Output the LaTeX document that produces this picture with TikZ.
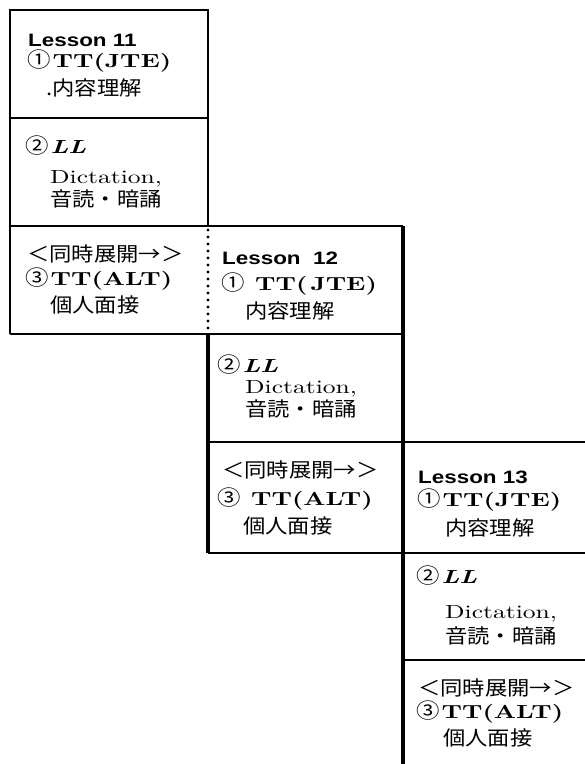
\documentclass[tikz,border=0pt]{standalone}
\usepackage{fontspec}
\newfontfamily\lesfont[FakeStretch=1.25]{Liberation Sans}
\newfontfamily\srf[Extension=.otf,UprightFont=*-regular,BoldFont=*-bold,ItalicFont=*-italic,BoldItalicFont=*-bolditalic,FakeStretch=1.35]{lmroman10}
\newfontfamily\jp[FakeStretch=1.12]{Noto Sans CJK JP}
\newcommand\cnum[1]{{\jp\fontsize{21}{21}\selectfont #1}\hspace{2bp}}
\tikzset{
  lesson/.style={anchor=base west, inner sep=0pt, font=\lesfont\bfseries\fontsize{18}{18}\selectfont},
  ser/.style={anchor=base west, inner sep=0pt, font=\srf\fontsize{19}{19}\selectfont},
  jpt/.style={anchor=base west, inner sep=0pt, font=\jp\fontsize{20}{20}\selectfont},
  frame/.style={line width=2.2bp},
  divl/.style={line width=1.4bp},
  heavy/.style={line width=3.2bp},
  dotl/.style={line width=3.4bp, line cap=round, dash pattern=on 0pt off 7bp},
}
\begin{document}
\begin{tikzpicture}[x=1bp,y=-1bp]
\useasboundingbox (0,0) rectangle (585,764);
% frames
\draw[frame] (10,334) -- (10,10) -- (208,10) -- (208,226);
\draw[divl] (10,118) -- (208,118);
\draw[frame] (10,226) -- (403,226);
\draw[frame] (10,334) -- (208,334);
\draw[divl] (208,334) -- (403,334);
\draw[divl] (208,442) -- (403,442);
\draw[frame] (403,442) -- (585,442);
\draw[heavy] (403,226) -- (403,553);
\draw[heavy] (208,334) -- (208,553);
\draw[frame] (208,553) -- (403,553);
\draw[divl] (403,553) -- (585,553);
\draw[heavy] (403,553) -- (403,764);
\draw[divl] (403,660) -- (585,660);
\draw[dotl] (208,230) -- (208,334);
\draw[dotl] (403,446) -- (403,553);
% box 1
\node[lesson] (a1) at (28,47) {Lesson 11};
\node[ser] (a2) at (27,68) {\cnum{①}\textbf{TT(JTE)}};
\node[jpt] (a3) at (46,95) {.内容理解};
\node[ser] (a4) at (25,153) {\cnum{②}\textbf{\textit{LL}}};
\node[ser] (a5) at (50,183) {Dictation,};
\node[jpt] (a6) at (50,206) {音読・暗誦};
\node[jpt] (a7) at (27,261) {＜同時展開→＞};
\node[ser] (a8) at (25,285) {\cnum{③}\textbf{TT(ALT)}};
\node[jpt] (a9) at (50,312) {個人面接};
% box 2
\node[lesson] (b1) at (222,264) {Lesson\ \ 12};
\node[ser] (b2) at (221,290) {\cnum{①}\ \textbf{TT(\,JTE)}};
\node[jpt] (b3) at (245,318) {内容理解};
\node[ser] (b4) at (217,372) {\cnum{②}\textbf{\textit{LL}}};
\node[ser] (b5) at (245,393) {Dictation,};
\node[jpt] (b6) at (245,416) {音読・暗誦};
\node[jpt] (b7) at (222,477) {＜同時展開→＞};
\node[ser] (b8) at (217,505) {\cnum{③}\ \textbf{TT(ALT)}};
\node[jpt] (b9) at (243,533) {個人面接};
% box 3
\node[lesson] (c1) at (418,483) {Lesson 13};
\node[ser] (c2) at (417,506) {\cnum{①}\textbf{TT(JTE)}};
\node[jpt] (c3) at (445,535) {内容理解};
\node[ser] (c4) at (416,583) {\cnum{②}\textbf{\textit{LL}}};
\node[ser] (c5) at (445,618) {Dictation,};
\node[jpt] (c6) at (445,643) {音読・暗誦};
\node[jpt] (c7) at (418,695) {＜同時展開→＞};
\node[ser] (c8) at (416,718) {\cnum{③}\textbf{TT(ALT)}};
\node[jpt] (c9) at (443,745) {個人面接};
\end{tikzpicture}
\end{document}
